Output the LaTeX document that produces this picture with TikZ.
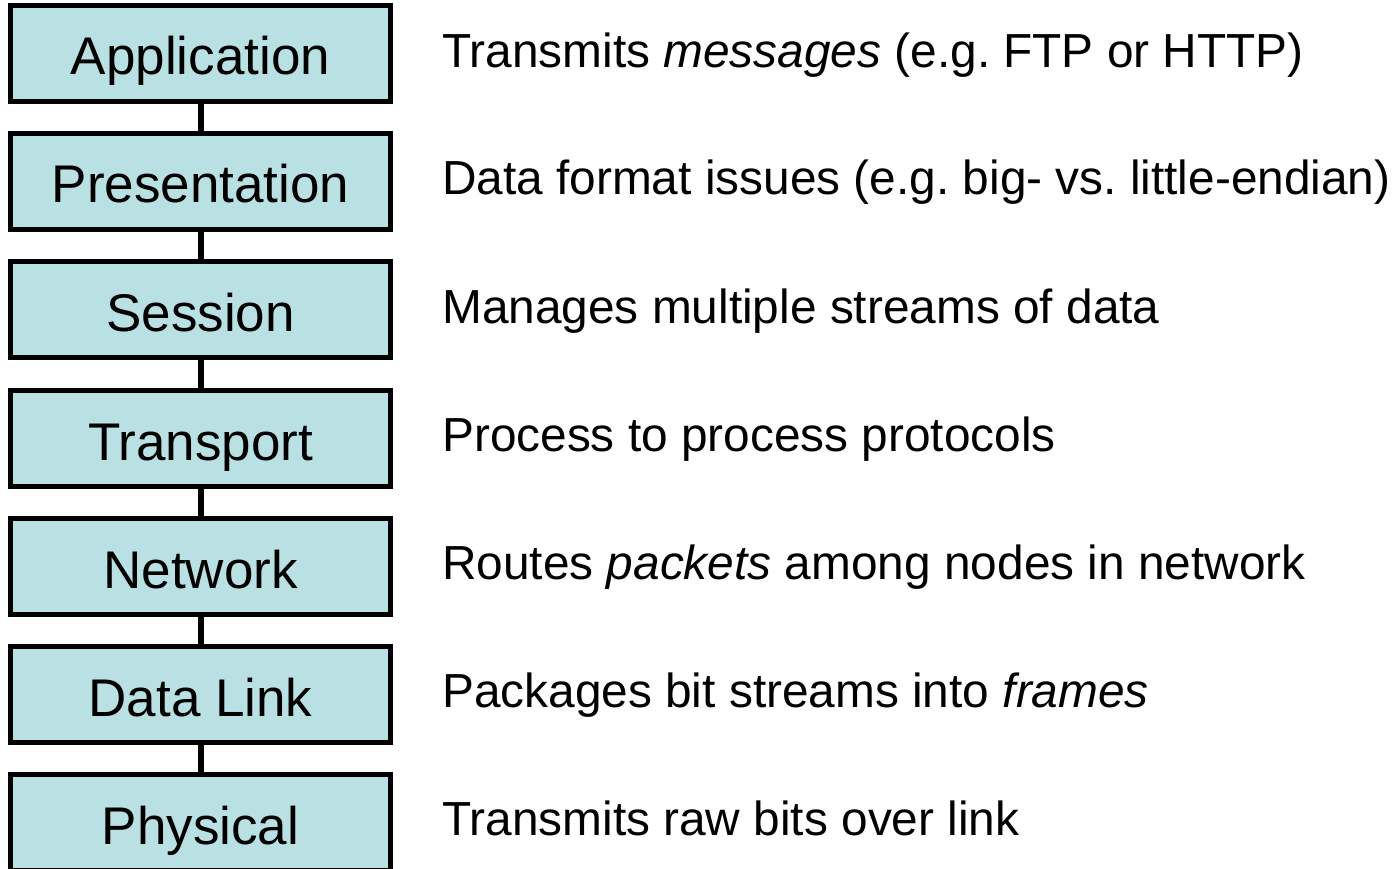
\documentclass[tikz,border=0pt]{standalone}
\usepackage{fontspec}
\setmainfont{Liberation Sans}
\frenchspacing
\definecolor{layerfill}{RGB}{185,224,227}
\tikzset{
  layer/.style={draw=black, line width=5pt, fill=layerfill, minimum width=380pt, minimum height=96pt,
    inner sep=0pt, text height=43pt, text depth=0pt, font=\fontsize{53}{62}\selectfont},
  link/.style={draw=black, line width=6pt},
  desc/.style={anchor=base west, inner sep=0pt, font=\fontsize{47.8}{58}\selectfont}
}
\begin{document}
\begin{tikzpicture}[x=1pt,y=-1pt]
  \useasboundingbox (0,0) rectangle (1395,869);
  % the seven layers, top to bottom
  \node[layer] (app)  at (200.5,53.5)  {Application};
  \node[layer] (pres) at (200.5,181.5) {Presentation};
  \node[layer] (sess) at (200.5,309.5) {Session};
  \node[layer] (tran) at (200.5,438.5) {Transport};
  \node[layer] (net)  at (200.5,566.5) {Network};
  \node[layer] (dl)   at (200.5,694.5) {Data Link};
  \node[layer] (phy)  at (200.5,822.5) {Physical};
  % links between neighbouring layers
  \draw[link] (app.south)  -- (pres.north);
  \draw[link] (pres.south) -- (sess.north);
  \draw[link] (sess.south) -- (tran.north);
  \draw[link] (tran.south) -- (net.north);
  \draw[link] (net.south)  -- (dl.north);
  \draw[link] (dl.south)   -- (phy.north);
  % what each layer does
  \node[desc] (dapp)  at (442,68)  {Transmits \textit{messages} (e.g. FTP or HTTP)};
  \node[desc] (dpres) at (442,195) {Data format issues (e.g. big- vs. little-endian)};
  \node[desc] (dsess) at (442,323) {Manages multiple streams of data};
  \node[desc] (dtran) at (442,451) {Process to process protocols};
  \node[desc] (dnet)  at (442,579) {Routes \textit{packets} among nodes in network};
  \node[desc] (ddl)   at (442,707) {Packages bit streams into \textit{frames}};
  \node[desc] (dphy)  at (442,835) {Transmits raw bits over link};
\end{tikzpicture}
\end{document}
